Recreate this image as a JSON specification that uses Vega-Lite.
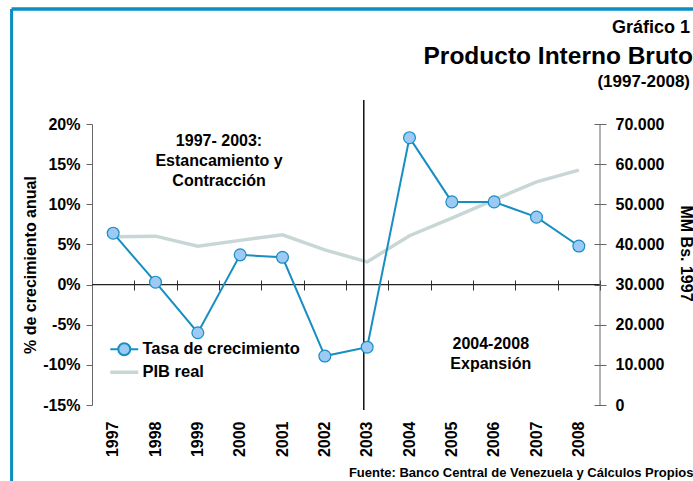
{
  "$schema": "https://vega.github.io/schema/vega-lite/v6.json",
  "width": 508,
  "height": 281,
  "autosize": {"type": "none"},
  "padding": {"left": 92, "top": 124, "right": 93, "bottom": 76},
  "background": "white",
  "config": {
    "font": "Liberation Sans",
    "view": {"stroke": null},
    "axis": {"labelFont": "Liberation Sans", "titleFont": "Liberation Sans", "labelFontWeight": "bold", "titleFontWeight": "bold", "labelColor": "black", "titleColor": "black", "grid": false},
    "text": {"font": "Liberation Sans", "fontWeight": "bold", "color": "black"}
  },
  "data": {
    "values": [
      {"year": "1997", "serie": "Tasa de crecimiento", "value": 6.4},
      {"year": "1998", "serie": "Tasa de crecimiento", "value": 0.3},
      {"year": "1999", "serie": "Tasa de crecimiento", "value": -6.0},
      {"year": "2000", "serie": "Tasa de crecimiento", "value": 3.7},
      {"year": "2001", "serie": "Tasa de crecimiento", "value": 3.4},
      {"year": "2002", "serie": "Tasa de crecimiento", "value": -8.9},
      {"year": "2003", "serie": "Tasa de crecimiento", "value": -7.8},
      {"year": "2004", "serie": "Tasa de crecimiento", "value": 18.3},
      {"year": "2005", "serie": "Tasa de crecimiento", "value": 10.3},
      {"year": "2006", "serie": "Tasa de crecimiento", "value": 10.3},
      {"year": "2007", "serie": "Tasa de crecimiento", "value": 8.4},
      {"year": "2008", "serie": "Tasa de crecimiento", "value": 4.8},
      {"year": "1997", "serie": "PIB real", "value": 41943},
      {"year": "1998", "serie": "PIB real", "value": 42066},
      {"year": "1999", "serie": "PIB real", "value": 39554},
      {"year": "2000", "serie": "PIB real", "value": 41013},
      {"year": "2001", "serie": "PIB real", "value": 42405},
      {"year": "2002", "serie": "PIB real", "value": 38650},
      {"year": "2003", "serie": "PIB real", "value": 35652},
      {"year": "2004", "serie": "PIB real", "value": 42172},
      {"year": "2005", "serie": "PIB real", "value": 46524},
      {"year": "2006", "serie": "PIB real", "value": 51117},
      {"year": "2007", "serie": "PIB real", "value": 55591},
      {"year": "2008", "serie": "PIB real", "value": 58525}
    ]
  },
  "resolve": {"scale": {"y": "independent"}, "axis": {"x": "independent"}},
  "layer": [
    {
      "transform": [{"filter": "datum.serie === 'PIB real'"}],
      "mark": {"type": "line", "strokeWidth": 3.5},
      "encoding": {
        "x": {
          "field": "year", "type": "ordinal",
          "scale": {"type": "band", "paddingInner": 0, "paddingOuter": 0},
          "axis": {"orient": "bottom", "offset": -125, "labels": false, "domain": false, "ticks": true, "tickSize": 10, "tickBand": "extent", "tickColor": "#333", "tickWidth": 1, "title": null}
        },
        "y": {
          "field": "value", "type": "quantitative",
          "scale": {"domain": [0, 70000], "nice": false, "zero": false},
          "axis": {
            "orient": "right", "offset": -6,
            "values": [0, 10000, 20000, 30000, 40000, 50000, 60000, 70000],
            "labelExpr": "datum.value === 0 ? '0' : replace(format(datum.value, ','), ',', '.')",
            "domain": false, "tickSize": 12, "tickColor": "#666", "labelPadding": 9, "labelFontSize": 16,
            "title": "MM Bs. 1997", "titleFontSize": 16, "titleAngle": 90, "titleX": 91, "titleY": 129, "titleBaseline": "middle", "titleAlign": "center"
          }
        },
        "color": {
          "field": "serie", "type": "nominal",
          "scale": {"domain": ["Tasa de crecimiento", "PIB real"], "range": ["#178ec2", "#c8d6d6"]},
          "legend": {
            "orient": "none", "legendX": 24, "legendY": 217, "title": null,
            "symbolSize": 484, "labelFontSize": 16.5, "labelFontWeight": "bold", "labelColor": "black", "labelFont": "Liberation Sans",
            "labelOffset": 10, "rowPadding": 4, "padding": 0,
            "encode": {
              "symbols": {
                "update": {
                  "shape": {"signal": "datum.value === 'PIB real' ? 'M-1.27,0L1.27,0' : 'M-1.27,0L-0.545,0M0.545,0L1.27,0M-0.545,0A0.545,0.545,0,1,0,0.545,0A0.545,0.545,0,1,0,-0.545,0'"},
                  "fill": {"signal": "datum.value === 'PIB real' ? 'transparent' : '#9ccaf5'"},
                  "strokeWidth": {"signal": "datum.value === 'PIB real' ? 3.5 : 2"},
                  "opacity": {"value": 1}
                }
              }
            }
          }
        }
      }
    },
    {
      "layer": [
        {
          "data": {"values": [{}]},
          "mark": {"type": "rule", "color": "#0b8fc3", "strokeWidth": 3.5},
          "encoding": {
            "x": {"datum": "1997", "bandPosition": -1.9},
            "x2": {"datum": "2008", "bandPosition": 3.4},
            "y": {"datum": 34.32, "type": "quantitative"}
          }
        },
        {
          "data": {"values": [{}]},
          "mark": {"type": "rule", "color": "#0b8fc3", "strokeWidth": 3},
          "encoding": {
            "x": {"datum": "1997", "bandPosition": -1.9},
            "y": {"datum": 34.32, "type": "quantitative"},
            "y2": {"datum": -27}
          }
        },
        {
          "data": {"values": [{}]},
          "mark": {"type": "rule", "color": "#222", "strokeWidth": 1.3},
          "encoding": {"y": {"datum": 0, "type": "quantitative"}}
        },
        {
          "data": {"values": [{}]},
          "mark": {"type": "rule", "color": "#666", "strokeWidth": 1},
          "encoding": {
            "x": {"datum": "2008", "bandPosition": 1},
            "y": {"datum": 20, "type": "quantitative"},
            "y2": {"datum": -15}
          }
        },
        {
          "data": {"values": [{}]},
          "mark": {"type": "rule", "color": "#111", "strokeWidth": 1.5},
          "encoding": {
            "x": {"datum": "2003", "bandPosition": 0.42},
            "y": {"datum": 22.99, "type": "quantitative"},
            "y2": {"datum": -15.62}
          }
        },
        {
          "data": {"values": [{}]},
          "mark": {"type": "text", "align": "center", "baseline": "middle", "fontSize": 16, "lineHeight": 20},
          "encoding": {
            "x": {"datum": "2000", "bandPosition": 0},
            "y": {"datum": 17.88, "type": "quantitative"},
            "text": {"value": ["1997- 2003:", "Estancamiento y", "Contracción"]}
          }
        },
        {
          "data": {"values": [{}]},
          "mark": {"type": "text", "align": "center", "baseline": "middle", "fontSize": 16, "lineHeight": 20},
          "encoding": {
            "x": {"datum": "2006", "bandPosition": 0.42},
            "y": {"datum": -7.35, "type": "quantitative"},
            "text": {"value": ["2004-2008", "Expansión"]}
          }
        },
        {
          "data": {"values": [{}]},
          "mark": {"type": "text", "align": "right", "baseline": "alphabetic", "fontSize": 18, "dx": 90},
          "encoding": {
            "x": {"datum": "2008", "bandPosition": 1},
            "y": {"datum": 31.33, "type": "quantitative"},
            "text": {"value": "Gráfico 1"}
          }
        },
        {
          "data": {"values": [{}]},
          "mark": {"type": "text", "align": "right", "baseline": "alphabetic", "fontSize": 24.5, "dx": 93},
          "encoding": {
            "x": {"datum": "2008", "bandPosition": 1},
            "y": {"datum": 27.47, "type": "quantitative"},
            "text": {"value": "Producto Interno Bruto"}
          }
        },
        {
          "data": {"values": [{}]},
          "mark": {"type": "text", "align": "right", "baseline": "alphabetic", "fontSize": 17, "dx": 90},
          "encoding": {
            "x": {"datum": "2008", "bandPosition": 1},
            "y": {"datum": 24.6, "type": "quantitative"},
            "text": {"value": "(1997-2008)"}
          }
        },
        {
          "transform": [{"filter": "datum.serie === 'Tasa de crecimiento'"}],
          "mark": {"type": "line", "strokeWidth": 2},
          "encoding": {
            "x": {
              "field": "year", "type": "ordinal",
              "scale": {"type": "band", "paddingInner": 0, "paddingOuter": 0},
              "axis": {
                "orient": "bottom", "domain": false, "ticks": false, "tickSize": 0, "labelPadding": 16, "labelAngle": 270, "labelFontSize": 16,
                "title": "Fuente: Banco Central de Venezuela y Cálculos Propios", "titleFontSize": 13, "titleX": 601, "titleY": 71, "titleAlign": "right", "titleBaseline": "alphabetic", "titleAnchor": "end"
              }
            },
            "y": {
              "field": "value", "type": "quantitative",
              "scale": {"domain": [-15, 20], "nice": false, "zero": false},
              "axis": {
                "orient": "left", "values": [-15, -10, -5, 0, 5, 10, 15, 20], "labelExpr": "datum.value + '%'",
                "tickSize": 6, "domainColor": "#666", "tickColor": "#666", "labelPadding": 6, "labelFontSize": 16,
                "title": "% de crecimiento anual", "titleFontSize": 16, "titleX": -62, "titleY": 140.5, "titleAngle": 270, "titleBaseline": "middle", "titleAlign": "center"
              }
            },
            "color": {"field": "serie", "type": "nominal"}
          }
        },
        {
          "transform": [{"filter": "datum.serie === 'Tasa de crecimiento'"}],
          "mark": {"type": "circle", "color": "#9ccaf5", "stroke": "#178ec2", "strokeWidth": 1.2, "size": 140, "opacity": 1},
          "encoding": {
            "x": {"field": "year", "type": "ordinal"},
            "y": {"field": "value", "type": "quantitative"}
          }
        }
      ]
    }
  ]
}
